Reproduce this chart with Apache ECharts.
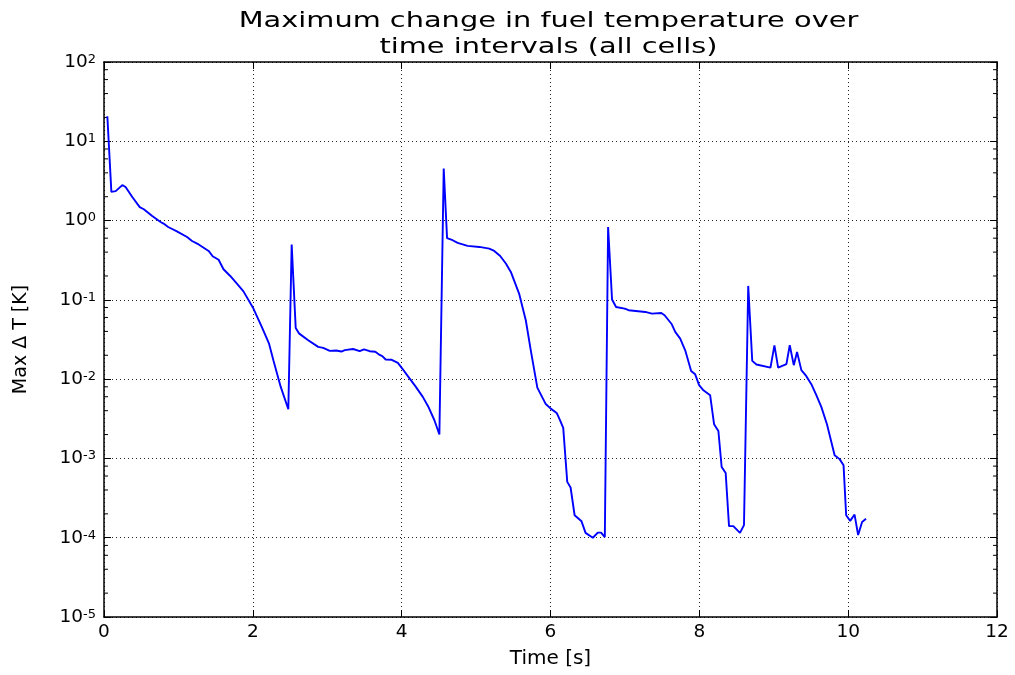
<!DOCTYPE html>
<html>
<head>
<meta charset="utf-8">
<script src="https://cdn.jsdelivr.net/npm/echarts@6/dist/echarts.min.js"></script>
<style>
  html, body { margin: 0; padding: 0; background: #fff; }
  #chart { width: 1015px; height: 675px; }
</style>
</head>
<body>
<div id="chart"></div>
<script>
// ---- Data ----
const titleLines = ['Maximum change in fuel temperature over', 'time intervals (all cells)'];
const xAxisName = 'Time [s]';
const yAxisName = 'Max \u0394 T [K]';
const xTicks = [0, 2, 4, 6, 8, 10, 12];
const yDecades = [-5, -4, -3, -2, -1, 0, 1, 2];
const minorMultipliers = [2, 4, 6, 8];

const times = [
  0.045, 0.099, 0.157, 0.246, 0.29, 0.38, 0.48, 0.535, 0.648, 0.76,
  0.80, 0.862, 0.98, 1.116, 1.183, 1.272, 1.406, 1.46, 1.54, 1.606,
  1.696, 1.786, 1.874, 2.008, 2.12, 2.218, 2.276, 2.375, 2.477, 2.522,
  2.576, 2.624, 2.744, 2.878, 2.945, 3.035, 3.12, 3.19, 3.236, 3.347,
  3.436, 3.494, 3.57, 3.646, 3.704, 3.74, 3.785, 3.86, 3.949, 4.008,
  4.083, 4.186, 4.284, 4.364, 4.44, 4.507, 4.565, 4.61, 4.685, 4.752,
  4.886, 5.043, 5.177, 5.244, 5.324, 5.40, 5.467, 5.578, 5.668, 5.735,
  5.823, 5.936, 6.003, 6.083, 6.123, 6.171, 6.225, 6.27, 6.324, 6.417,
  6.471, 6.569, 6.636, 6.68, 6.73, 6.774, 6.827, 6.881, 6.997, 7.05,
  7.274, 7.363, 7.489, 7.533, 7.63, 7.676, 7.743, 7.81, 7.89, 7.944,
  7.997, 8.055, 8.145, 8.198, 8.256, 8.3, 8.354, 8.399, 8.457, 8.546,
  8.6, 8.657, 8.711, 8.768, 8.956, 9.009, 9.059, 9.17, 9.215, 9.269,
  9.313, 9.371, 9.438, 9.505, 9.572, 9.639, 9.715, 9.818, 9.885, 9.938,
  9.973, 10.027, 10.086, 10.134, 10.187, 10.24
];
const maxDeltaT = [
  20.7, 2.3, 2.35, 2.8, 2.65, 1.98, 1.48, 1.39, 1.14, 0.96,
  0.916, 0.83, 0.73, 0.62, 0.553, 0.50, 0.414, 0.355, 0.32, 0.243,
  0.2, 0.16, 0.128, 0.0776, 0.0455, 0.028, 0.0173, 0.00798, 0.00417, 0.498,
  0.0443, 0.0375, 0.031, 0.0255, 0.0248, 0.0227, 0.023, 0.0223, 0.0232, 0.024,
  0.0225, 0.0238, 0.0225, 0.0222, 0.0202, 0.0195, 0.0177, 0.0176, 0.016, 0.0136,
  0.0109, 0.0081, 0.00598, 0.00438, 0.00303, 0.002, 4.53, 0.60, 0.565, 0.523,
  0.479, 0.465, 0.443, 0.414, 0.358, 0.287, 0.225, 0.12, 0.0553, 0.0231,
  0.00783, 0.00485, 0.00425, 0.00375, 0.0031, 0.00243, 0.000506, 0.00043, 0.000192, 0.000161,
  0.000115, 0.0001, 0.000116, 0.000116, 0.000102, 0.83, 0.101, 0.0813, 0.0776, 0.074,
  0.0704, 0.067, 0.0684, 0.064, 0.0492, 0.0394, 0.0325, 0.0231, 0.0127, 0.0115,
  0.0084, 0.00724, 0.00627, 0.0027, 0.00222, 0.00078, 0.000656, 0.00014, 0.00014, 0.000115,
  0.000144, 0.15, 0.017, 0.0153, 0.014, 0.0266, 0.014, 0.0155, 0.0268, 0.015,
  0.022, 0.013, 0.0109, 0.00863, 0.00627, 0.00447, 0.0027, 0.0011, 0.00098, 0.00082,
  0.000192, 0.000163, 0.000196, 0.000108, 0.000158, 0.000173
];

// ---- Chart ----
const FONT = 'DejaVu Sans';
const seriesData = times.map((t, i) => [t, maxDeltaT[i]]);
const xMin = xTicks[0], xMax = xTicks[xTicks.length - 1], xStep = xTicks[1] - xTicks[0];
const yMin = Math.pow(10, yDecades[0]), yMax = Math.pow(10, yDecades[yDecades.length - 1]);

const chart = echarts.init(document.getElementById('chart'));

const gridLine = { show: true, lineStyle: { color: '#222', width: 1, type: [1, 3] } };
const axisLineStyle = { show: true, onZero: false, lineStyle: { color: '#000', width: 1.5 } };
const tickIn = { show: true, inside: true, length: 7, lineStyle: { color: '#000', width: 1 } };

const option = {
  animation: false,
  backgroundColor: '#fff',
  grid: { left: 104, right: 18, top: 62, bottom: 58, containLabel: false },
  xAxis: [
    {
      type: 'value', min: xMin, max: xMax, interval: xStep,
      name: xAxisName, nameLocation: 'middle', nameGap: 32,
      nameTextStyle: { fontFamily: FONT, fontSize: 20, color: '#000' },
      axisLine: axisLineStyle, axisTick: tickIn,
      axisLabel: { fontFamily: FONT, fontSize: 18.5, color: '#000', margin: 6 },
      splitLine: gridLine
    },
    {
      type: 'value', min: xMin, max: xMax, interval: xStep, position: 'top',
      axisLine: axisLineStyle, axisTick: tickIn,
      axisLabel: { show: false }, splitLine: { show: false }
    }
  ],
  yAxis: [
    {
      type: 'log', logBase: 10, min: yMin, max: yMax, splitNumber: 7,
      name: yAxisName, nameLocation: 'middle', nameGap: 73,
      nameTextStyle: { fontFamily: FONT, fontSize: 19, color: '#000' },
      axisLine: axisLineStyle, axisTick: tickIn,
      axisLabel: {
        margin: 8, color: '#000',
        formatter: function (v) {
          const e = Math.round(Math.log10(v));
          return '{b|10}{s|' + e + '}';
        },
        rich: {
          b: { fontFamily: FONT, fontSize: 18.5, lineHeight: 18, color: '#000', padding: [5, 0, 5, 0] },
          s: { fontFamily: FONT, fontSize: 13, lineHeight: 13, color: '#000', verticalAlign: 'top' }
        }
      },
      splitLine: gridLine
    },
    {
      type: 'log', logBase: 10, min: yMin, max: yMax, splitNumber: 7, position: 'right',
      axisLine: axisLineStyle, axisTick: tickIn,
      axisLabel: { show: false }, splitLine: { show: false }
    }
  ],
  series: [{
    type: 'line',
    data: seriesData,
    xAxisIndex: 0, yAxisIndex: 0,
    showSymbol: false,
    symbol: 'none',
    lineStyle: { color: '#0000ff', width: 1.9 },
    itemStyle: { color: '#0000ff' }
  }]
};
chart.setOption(option);

// Minor log ticks (2,4,6,8 x 10^n) and stretched title drawn as graphic elements
const graphics = [];
const leftX = 104, rightX = 1015 - 18;
for (let d = yDecades[0]; d < yDecades[yDecades.length - 1]; d++) {
  minorMultipliers.forEach(m => {
    const py = chart.convertToPixel({ yAxisIndex: 0 }, m * Math.pow(10, d));
    graphics.push({ type: 'line', silent: true, shape: { x1: leftX, y1: py, x2: leftX + 4, y2: py }, style: { stroke: '#000', lineWidth: 1 } });
    graphics.push({ type: 'line', silent: true, shape: { x1: rightX, y1: py, x2: rightX - 4, y2: py }, style: { stroke: '#000', lineWidth: 1 } });
  });
}
const titleCx = (leftX + rightX) / 2 - 2;
titleLines.forEach((line, i) => {
  graphics.push({
    type: 'text', x: titleCx, y: 21 + i * 26, scaleX: 1.34, scaleY: 1,
    style: {
      text: line, font: '21.5px "' + FONT + '"', fill: '#000',
      textAlign: 'center', textVerticalAlign: 'middle', align: 'center', verticalAlign: 'middle'
    }
  });
});
chart.setOption({ graphic: graphics });
</script>
</body>
</html>
